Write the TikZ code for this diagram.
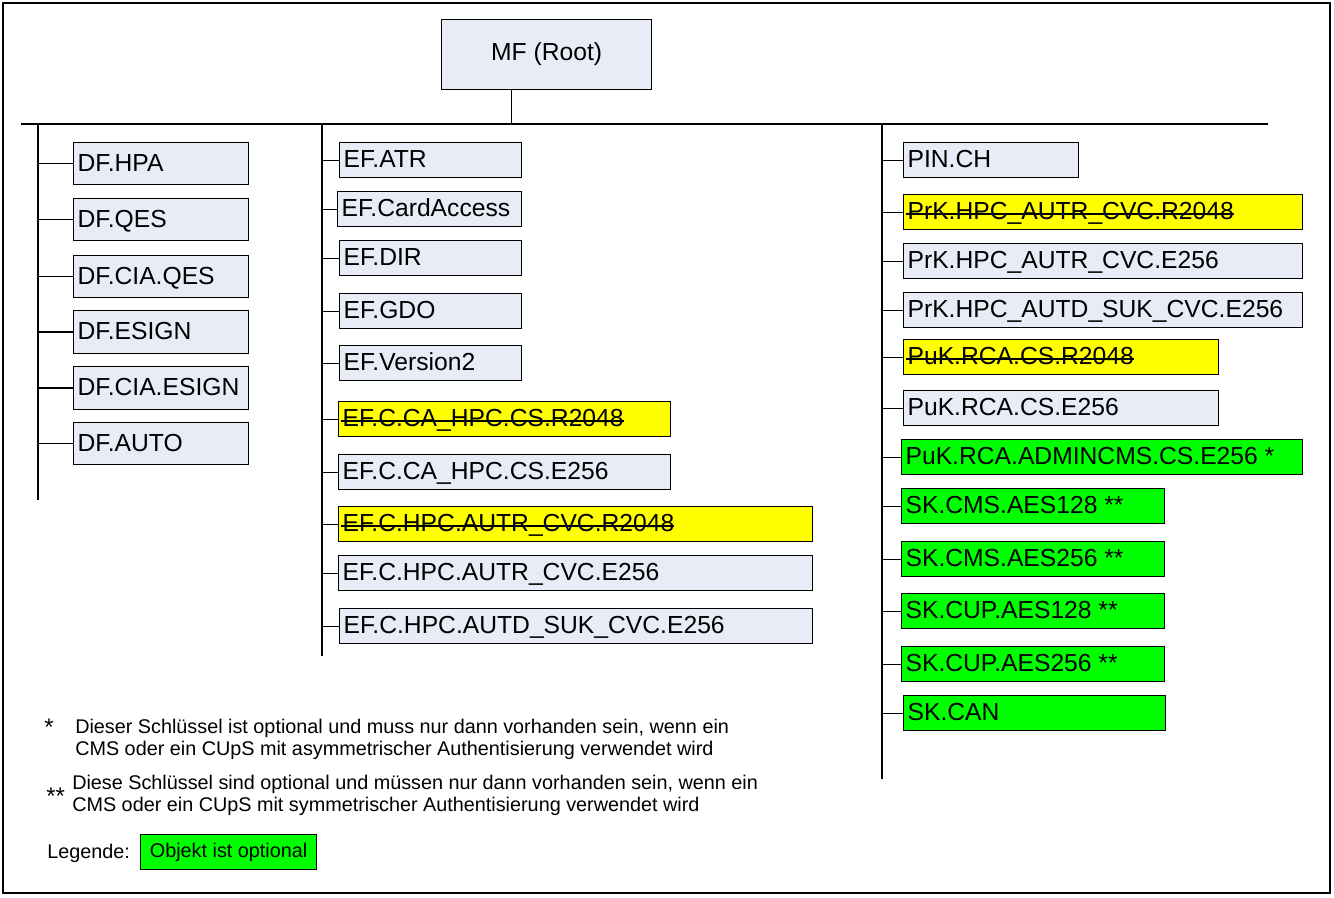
\documentclass[tikz,border=0pt]{standalone}
\usepackage{fontspec}
\usetikzlibrary{calc}
\setmainfont{Liberation Sans}

\definecolor{objfill}{RGB}{231,236,246}
\definecolor{obsolete}{RGB}{255,255,0}
\definecolor{optional}{RGB}{0,255,0}

% struck-through label for withdrawn objects
\newsavebox\strkbox
\newcommand\strk[1]{\sbox\strkbox{#1}\rlap{\kern-1pt\rule[3.7pt]{\dimexpr\wd\strkbox+1pt\relax}{0.9pt}}\usebox\strkbox}

% \objbox{name}{x1}{y1}{x2}{y2}{style}{label}  -- coordinates in px
\newcommand\objbox[7]{%
  \pgfmathsetmacro\objw{(#4-#2)*0.75-6}%
  \pgfmathsetmacro\objh{(#5-#3)*0.75}%
  \node[objnode,#6,minimum height=\objh pt] (#1) at (#2,#3) {\makebox[\objw pt][l]{#7}};%
}

\tikzset{
  objnode/.style={draw=black, line width=0.9pt, fill=objfill, anchor=north west,
    inner xsep=3pt, inner ysep=0pt, text height=13.2pt, text depth=2pt,
    font=\fontsize{18.5}{21}\selectfont},
  withdrawn/.style={fill=obsolete},
  opt/.style={fill=optional},
  trunk/.style={draw=black, line width=1.2pt},
  branch/.style={draw=black, line width=0.9pt},
  note/.style={inner sep=0pt, anchor=base west, font=\fontsize{14.85}{17.5}\selectfont},
  starmark/.style={inner sep=0pt, anchor=base west, font=\fontsize{18}{21}\selectfont},
}

\begin{document}
\begin{tikzpicture}[x=0.75pt, y=-0.75pt]
\useasboundingbox (0,0) rectangle (1334,897);
\draw[line width=1.5pt] (2.5,2.5) rectangle (1329.5,893);

% root
\node[draw=black, line width=0.9pt, fill=objfill, anchor=north west,
      minimum width=157.5pt, minimum height=52.5pt, inner sep=0pt,
      font=\fontsize{18.5}{21}\selectfont] (root) at (441,19) {MF (Root)};

% main bar and trunks
\coordinate (barL) at (21,124);
\coordinate (barR) at (1268,124);
\coordinate (rootlink) at ($(root.south west)!0.333!(root.south east)$);
\coordinate (t1top) at (38,124);   \coordinate (t1bot) at (38,500);
\coordinate (t2top) at (322,124);  \coordinate (t2bot) at (322,656);
\coordinate (t3top) at (882,124);  \coordinate (t3bot) at (882,779);
\draw[trunk] (barL) -- (barR);
\draw[trunk] (rootlink) -- (rootlink |- barL);
\draw[trunk] (t1top) -- (t1bot);
\draw[branch] (t2top) -- (t2bot);
\draw[branch] (t3top) -- (t3bot);

% dedicated files
\objbox{dfhpa}{73}{142}{248}{184}{}{DF.HPA}
\objbox{dfqes}{73}{198}{248}{240}{}{DF.QES}
\objbox{dfciaqes}{73}{255}{248}{297}{}{DF.CIA.QES}
\objbox{dfesign}{73}{310}{248}{353}{}{DF.ESIGN}
\objbox{dfciaesign}{73}{366}{248}{409}{}{DF.CIA.ESIGN}
\objbox{dfauto}{73}{422}{248}{464}{}{DF.AUTO}
\foreach \n in {dfhpa,dfqes,dfciaqes,dfesign,dfciaesign,dfauto}
  \draw[trunk] (\n.west) -- (\n.west -| t1top);

% elementary files
\objbox{efatr}{339}{142}{521}{177}{}{EF.ATR}
\objbox{efcard}{337}{191}{521}{226}{}{EF.CardAccess}
\objbox{efdir}{339}{240}{521}{275}{}{EF.DIR}
\objbox{efgdo}{339}{293}{521}{328}{}{EF.GDO}
\objbox{efver}{339}{345}{521}{380}{}{EF.Version2}
\objbox{efcar}{338}{401}{670}{436}{withdrawn}{\strk{EF.C.CA\_HPC.CS.R2048}}
\objbox{efcae}{338}{454}{670}{489}{}{EF.C.CA\_HPC.CS.E256}
\objbox{efautr}{338}{506}{812}{541}{withdrawn}{\strk{EF.C.HPC.AUTR\_CVC.R2048}}
\objbox{efautre}{338}{555}{812}{590}{}{EF.C.HPC.AUTR\_CVC.E256}
\objbox{efautd}{339}{608}{812}{643}{}{EF.C.HPC.AUTD\_SUK\_CVC.E256}
\foreach \n in {efatr,efcard,efdir,efgdo,efver,efcar,efcae,efautr,efautre,efautd}
  \draw[branch] (\n.west) -- (\n.west -| t2top);

% keys and PIN
\objbox{pinch}{903}{142}{1078}{177}{}{PIN.CH}
\objbox{prkr}{903}{194}{1302}{229}{withdrawn}{\strk{PrK.HPC\_AUTR\_CVC.R2048}}
\objbox{prke}{903}{243}{1302}{278}{}{PrK.HPC\_AUTR\_CVC.E256}
\objbox{prkd}{903}{292}{1302}{327}{}{PrK.HPC\_AUTD\_SUK\_CVC.E256}
\objbox{pukr}{903}{339}{1218}{374}{withdrawn}{\strk{PuK.RCA.CS.R2048}}
\objbox{puke}{903}{390}{1218}{425}{}{PuK.RCA.CS.E256}
\objbox{pukadm}{901}{439}{1302}{474}{opt}{PuK.RCA.ADMINCMS.CS.E256 *}
\objbox{skcmsa}{901}{488}{1164}{523}{opt}{SK.CMS.AES128 **}
\objbox{skcmsb}{901}{541}{1164}{576}{opt}{SK.CMS.AES256 **}
\objbox{skcupa}{901}{593}{1164}{628}{opt}{SK.CUP.AES128 **}
\objbox{skcupb}{901}{646}{1164}{681}{opt}{SK.CUP.AES256 **}
\objbox{skcan}{903}{695}{1165}{730}{opt}{SK.CAN}
\foreach \n in {pinch,prkr,prke,prkd,pukr,puke,pukadm,skcmsa,skcmsb,skcupa,skcupb,skcan}
  \draw[branch] (\n.west) -- (\n.west -| t3top);

% footnotes
\node[starmark] (s1) at (44,735) {*};
\node[note] (n1a) at (75,733) {Dieser Schlüssel ist optional und muss nur dann vorhanden sein, wenn ein};
\node[note] (n1b) at (75,755) {CMS oder ein CUpS mit asymmetrischer Authentisierung verwendet wird};
\node[starmark] (s2) at (46,804) {**};
\node[note] (n2a) at (72,789) {Diese Schlüssel sind optional und müssen nur dann vorhanden sein, wenn ein};
\node[note] (n2b) at (72,811) {CMS oder ein CUpS mit symmetrischer Authentisierung verwendet wird};

% legend
\node[note] (leg) at (47,858) {Legende:};
\node[draw=black, line width=0.9pt, fill=optional, anchor=north west,
      minimum width=132pt, minimum height=26.25pt, inner sep=0pt,
      font=\fontsize{14.85}{17.5}\selectfont] (legbox) at (140,834) {Objekt ist optional};
\end{tikzpicture}
\end{document}
